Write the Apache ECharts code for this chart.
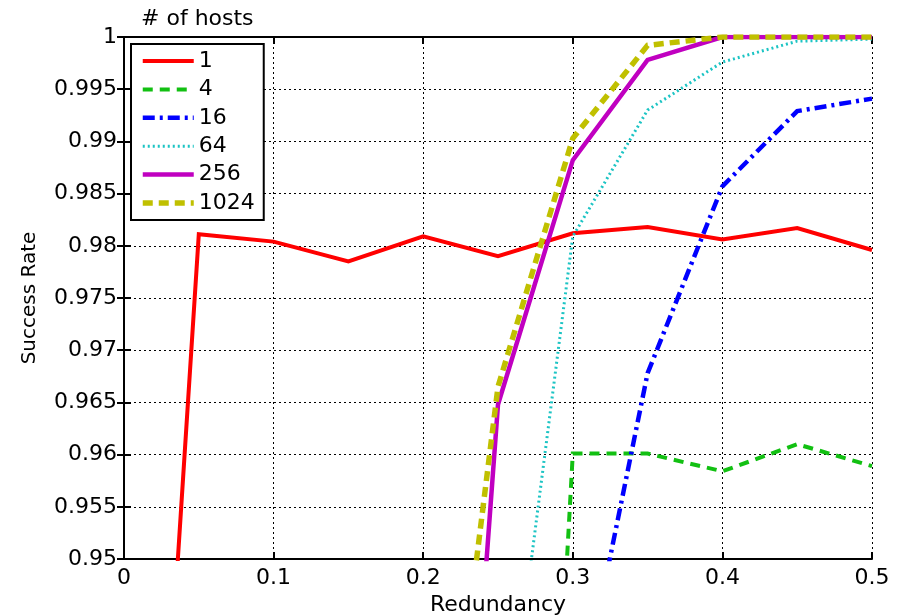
<!DOCTYPE html>
<html>
<head>
<meta charset="utf-8">
<script src="https://cdn.jsdelivr.net/npm/echarts@6/dist/echarts.min.js"></script>
<style>html,body{margin:0;padding:0;background:#fff}#c{width:902px;height:616px}</style>
</head>
<body>
<div id="c"></div>
<script>
var redundancy = [0, 0.05, 0.1, 0.15, 0.2, 0.25, 0.3, 0.35, 0.4, 0.45, 0.5];
var hosts1    = [0.870, 0.9811, 0.9804, 0.9785, 0.9809, 0.9790, 0.9812, 0.9818, 0.9806, 0.9817, 0.9796];
var hosts4    = [null, null, null, null, null, 0.830, 0.9601, 0.9601, 0.9584, 0.9610, 0.9589];
var hosts16   = [null, null, null, null, null, null, 0.9326, 0.9678, 0.9857, 0.9929, 0.9941];
var hosts64   = [null, null, null, null, null, 0.925, 0.9809, 0.9930, 0.9976, 0.9996, 0.9998];
var hosts256  = [null, null, null, null, 0.8677, 0.9648, 0.9882, 0.9978, 1.0, 1.0, 1.0];
var hosts1024 = [null, null, null, null, 0.9088, 0.9665, 0.9903, 0.9992, 1.0, 1.0, 1.0];
var seriesNames = ['1', '4', '16', '64', '256', '1024'];
var xTicks = [0, 0.1, 0.2, 0.3, 0.4, 0.5];
var yTicks = [0.95, 0.955, 0.96, 0.965, 0.97, 0.975, 0.98, 0.985, 0.99, 0.995, 1];

var FONT = 'DejaVu Sans';
var allData = [hosts1, hosts4, hosts16, hosts64, hosts256, hosts1024];
var styles = [
  {color: '#ff0000', width: 4, type: 'solid'},
  {color: '#12c012', width: 4, type: [10, 7]},
  {color: '#0000ff', width: 4.5, type: [12, 5, 3, 5]},
  {color: '#1cc4c4', width: 3, type: [2, 3]},
  {color: '#c000c0', width: 4.5, type: 'solid'},
  {color: '#c0c000', width: 5.5, type: [10, 6]}
];
function pairs(arr) {
  var out = [];
  for (var i = 0; i < redundancy.length; i++) {
    if (arr[i] !== null) out.push([redundancy[i], arr[i]]);
  }
  return out;
}
var series = allData.map(function (arr, i) {
  return {
    name: seriesNames[i], type: 'line', data: pairs(arr),
    symbol: 'none', clip: true, animation: false,
    lineStyle: {color: styles[i].color, width: styles[i].width, type: styles[i].type, cap: 'butt', join: 'miter'},
    itemStyle: {color: styles[i].color}
  };
});
var legendData = seriesNames.map(function (n, i) {
  return {
    name: n,
    itemStyle: {opacity: 0},
    lineStyle: {color: styles[i].color, width: styles[i].width, type: styles[i].type, cap: 'butt'}
  };
});
function fmt(v) { return String(parseFloat(v.toFixed(3))); }
var gridLine = {show: true, lineStyle: {color: '#000', width: 1, type: [2, 3]}};
var axisLine = {show: true, lineStyle: {color: '#000', width: 2}};
var tick = {show: true, inside: true, length: 7, lineStyle: {color: '#000', width: 2}};
var label = {color: '#000', fontFamily: FONT, fontSize: 22};

var chart = echarts.init(document.getElementById('c'), null, {renderer: 'canvas'});
chart.setOption({
  animation: false,
  backgroundColor: '#fff',
  title: {text: '# of hosts', left: 136, top: 3, textStyle: {fontFamily: FONT, fontSize: 22, fontWeight: 'normal', color: '#000'}},
  grid: {left: 124, right: 30, top: 37, bottom: 57, containLabel: false, outerBoundsMode: 'none'},
  legend: {
    orient: 'vertical', left: 131, top: 44,
    data: legendData,
    itemWidth: 51, itemHeight: 14, itemGap: 6.4,
    padding: [6, 9, 6, 9],
    borderColor: '#000', borderWidth: 2, backgroundColor: '#fff',
    itemStyle: {opacity: 0},
    textStyle: {fontFamily: FONT, fontSize: 22, color: '#000'}
  },
  xAxis: [{
    type: 'value', min: 0, max: 0.5, interval: 0.1, position: 'bottom',
    name: 'Redundancy', nameLocation: 'middle', nameGap: 29,
    nameTextStyle: {fontFamily: FONT, fontSize: 22, color: '#000'},
    axisLine: axisLine, axisTick: tick, splitLine: gridLine,
    axisLabel: Object.assign({margin: 8, formatter: fmt}, label)
  }, {
    type: 'value', min: 0, max: 0.5, interval: 0.1, position: 'top',
    axisLine: axisLine, axisTick: tick, splitLine: {show: false}, axisLabel: {show: false}
  }],
  yAxis: [{
    type: 'value', min: 0.95, max: 1, interval: 0.005, position: 'left',
    name: 'Success Rate', nameLocation: 'middle', nameGap: 84,
    nameTextStyle: {fontFamily: FONT, fontSize: 20, color: '#000'},
    axisLine: axisLine, axisTick: tick, splitLine: gridLine,
    axisLabel: Object.assign({margin: 7, formatter: fmt}, label)
  }, {
    type: 'value', min: 0.95, max: 1, interval: 0.005, position: 'right',
    axisLine: axisLine, axisTick: tick, splitLine: {show: false}, axisLabel: {show: false}
  }],
  series: series
});
</script>
</body>
</html>
